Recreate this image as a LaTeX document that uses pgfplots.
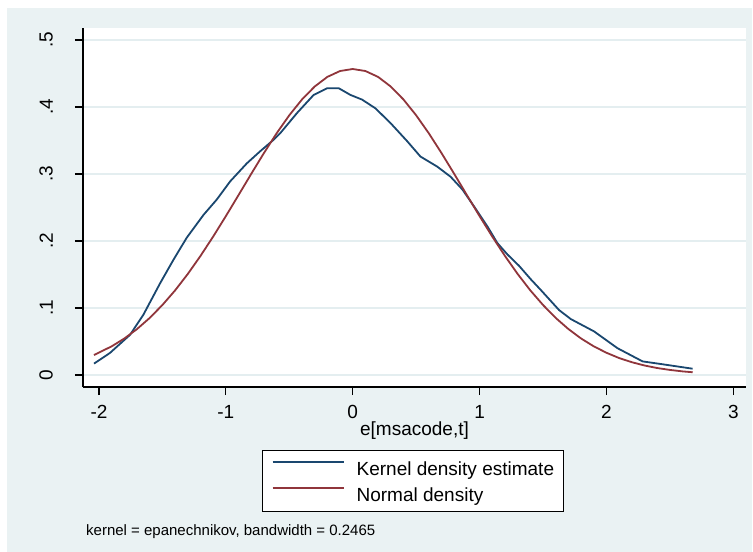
\documentclass[border=0pt]{standalone}
\usepackage{fontspec}
\setmainfont{Liberation Sans}
\usepackage{pgfplots}
\pgfplotsset{compat=1.18}
\definecolor{statabg}{RGB}{234,242,243}
\definecolor{statagrid}{RGB}{228,238,240}
\definecolor{statanavy}{RGB}{26,71,111}
\definecolor{statamaroon}{RGB}{144,53,59}

\begin{document}
\begin{tikzpicture}
\path[use as bounding box] (-83pt,-165pt) rectangle (670pt,387pt);
\fill[statabg] (-76pt,-165pt) rectangle (669pt,379pt);
\begin{axis}[
  at={(0pt,0pt)}, anchor=south west,
  scale only axis, width=663pt, height=359pt,
  xmin=-2.126, xmax=3.100, ymin=-0.0179, ymax=0.5179,
  axis background/.style={fill=white},
  axis x line*=bottom, axis y line*=left,
  axis line style={line width=1.1pt, black},
  tick align=outside, major tick length=8pt,
  tick style={line width=1.1pt, black},
  xtick={-2,-1,0,1,2,3}, xticklabels={{-2},{-1},0,1,2,3},
  ytick={0,0.1,0.2,0.3,0.4,0.5}, yticklabels={0,.1,.2,.3,.4,.5},
  ymajorgrids, grid style={statagrid, line width=1.3pt},
  /pgf/number format/assume math mode=true,
  tick label style={font=\fontsize{19}{22}\selectfont, inner sep=0pt},
  xticklabel style={anchor=base, yshift=-23pt},
  yticklabel style={xshift=-22pt, rotate=90, anchor=south},
  xlabel={e[msacode,t]},
  xlabel style={at={(axis description cs:0.5,0)}, anchor=base, yshift=-48.5pt,
    inner sep=0pt, font=\fontsize{19}{22}\selectfont},
  legend cell align=left,
  legend image code/.code={\draw[#1] (0pt,6pt) -- (71pt,6pt);},
  legend style={at={(0.4977,0)}, anchor=north, yshift=-63pt,
    draw=black, line width=0.8pt, fill=white,
    font=\fontsize{19}{22}\selectfont,
    inner xsep=9pt, inner ysep=5pt, column sep=12pt, row sep=2pt,
    nodes={inner sep=0pt, text height=20pt, text depth=4.5pt}},
]
% kernel density estimate
\addplot[statanavy, line width=1.8pt] coordinates {
(-2.039,0.017) (-1.913,0.033) (-1.755,0.060) (-1.650,0.090) (-1.518,0.137)
(-1.413,0.172) (-1.308,0.205) (-1.176,0.239) (-1.071,0.262) (-0.966,0.289)
(-0.834,0.316) (-0.729,0.334) (-0.624,0.351) (-0.571,0.361) (-0.439,0.391)
(-0.308,0.418) (-0.202,0.428) (-0.110,0.428) (-0.018,0.418) (0.074,0.411)
(0.179,0.398) (0.298,0.376) (0.429,0.349) (0.534,0.326) (0.666,0.311)
(0.771,0.296) (0.864,0.277) (0.955,0.252) (1.061,0.222) (1.140,0.197)
(1.219,0.180) (1.311,0.163) (1.403,0.143) (1.482,0.127) (1.626,0.097)
(1.719,0.0835) (1.903,0.065) (2.087,0.040) (2.285,0.0203) (2.429,0.0164)
(2.679,0.0094)
};
\addlegendentry{Kernel density estimate}
% normal density
\addplot[statamaroon, line width=1.8pt] coordinates {
(-2.04,0.0298) (-1.9,0.0428) (-1.8,0.0545) (-1.7,0.0686) (-1.6,0.0852)
(-1.5,0.1045) (-1.4,0.1263) (-1.3,0.1508) (-1.2,0.1777) (-1.1,0.2066)
(-1.0,0.2371) (-0.9,0.2685) (-0.8,0.3002) (-0.7,0.3312) (-0.6,0.3607)
(-0.5,0.3876) (-0.4,0.4112) (-0.3,0.4305) (-0.2,0.4449) (-0.1,0.4537)
(0,0.4567) (0.1,0.4537) (0.2,0.4449) (0.3,0.4305) (0.4,0.4112)
(0.5,0.3876) (0.6,0.3607) (0.7,0.3312) (0.8,0.3002) (0.9,0.2685)
(1.0,0.2371) (1.1,0.2066) (1.2,0.1777) (1.3,0.1508) (1.4,0.1263)
(1.5,0.1045) (1.6,0.0852) (1.7,0.0686) (1.8,0.0545) (1.9,0.0428)
(2.0,0.0332) (2.1,0.0253) (2.2,0.0191) (2.3,0.0142) (2.4,0.0104)
(2.5,0.0076) (2.6,0.0054) (2.68,0.0041)
};
\addlegendentry{Normal density}
\end{axis}
\node[anchor=base west, inner sep=0pt, font=\fontsize{15}{18}\selectfont]
  at (3pt,-148pt) {kernel = epanechnikov, bandwidth = 0.2465};
\end{tikzpicture}
\end{document}
